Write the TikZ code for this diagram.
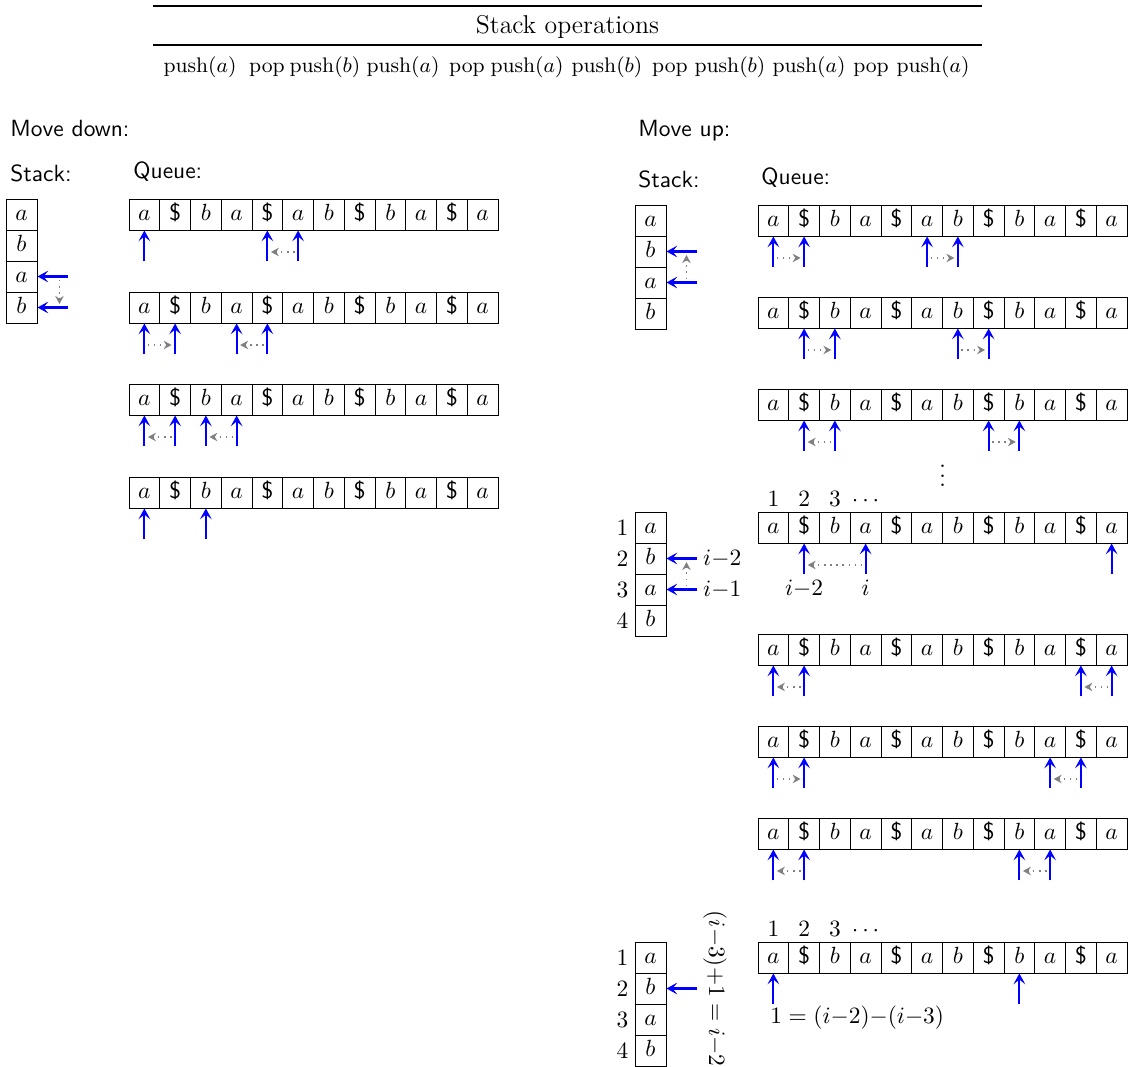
\documentclass[tikz,border=0pt]{standalone}
\usepackage{fontspec}
\usetikzlibrary{calc,arrows.meta}
\tikzset{
  cell/.style={draw, line width=0.4pt, minimum width=13.13pt, minimum height=13.24pt,
    inner sep=0pt, text height=7pt, text depth=2pt},
  scell/.style={cell, minimum width=13.24pt},
  ptr/.style={blue, line width=0.9pt, -{Stealth[length=4.6pt,width=5pt,inset=2pt]}},
  mv/.style={gray, dotted, semithick, -{Stealth[length=3.4pt,width=3.6pt]},
    shorten <=1.5pt, shorten >=1.5pt},
  lab/.style={font=\sffamily, inner sep=0pt, anchor=base west},
  num/.style={text height=6.5pt, text depth=0pt, inner sep=2pt, text=black},
  op/.style={font=\small, inner sep=0pt, anchor=base},
}
\newcommand\qrow[3]{%
  \foreach \c [count=\k] in {$a$,{\textsf{\$}},$b$,$a$,{\textsf{\$}},$a$,$b$,{\textsf{\$}},$b$,$a$,{\textsf{\$}},$a$}
    \node[cell] (#1-\k) at ({#2+(\k-0.5)*30.75},{#3+15.5}) {\c};
}
\newcommand\stkcol[3]{%
  \foreach \c [count=\k] in {$a$,$b$,$a$,$b$}
    \node[scell] (#1-\k) at ({#2+15.5},{#3+(\k-0.5)*31}) {\c};
}
\newcommand\uparr[2]{\draw[ptr] ($(#1-#2.south)+(0,31)$) -- (#1-#2.south);}
\newcommand\mvarr[3]{\draw[mv] ($(#1-#2.south)+(0,21.5)$) -- ($(#1-#3.south)+(0,21.5)$);}
\newcommand\sarr[2]{\draw[ptr] ($(#1-#2.east)+(31,0)$) -- (#1-#2.east);}
\newcommand\topnums[1]{%
  \node[num, above] (#1-n1) at (#1-1.north) {$1$};
  \node[num, above] (#1-n2) at (#1-2.north) {$2$};
  \node[num, above] (#1-n3) at (#1-3.north) {$3$};
  \node[num, above] (#1-n4) at (#1-4.north) {$\cdots$};
}
\newcommand\sidenums[1]{%
  \foreach \k in {1,...,4} \node[num, left, inner sep=2.5pt] (#1-m\k) at (#1-\k.west) {$\k$};
}
\begin{document}
\begin{tikzpicture}[x=0.427pt,y=-0.427pt]
\useasboundingbox (0,0) rectangle (1128,1067);

% header
\draw[line width=0.45pt] (153,6) -- (982,6);
\draw[line width=0.45pt] (153,45) -- (982,45);
\node[anchor=base, inner sep=0pt, font=\fontsize{11}{13}\selectfont] (title) at (567.5,33) {Stack operations};
\node[op] (op1) at (200,72) {push$(a)$};
\node[op] (op2) at (267,72) {pop};
\node[op] (op3) at (325,72) {push$(b)$};
\node[op] (op4) at (403,72) {push$(a)$};
\node[op] (op5) at (467,72) {pop};
\node[op] (op6) at (527,72) {push$(a)$};
\node[op] (op7) at (607,72) {push$(b)$};
\node[op] (op8) at (670,72) {pop};
\node[op] (op9) at (730,72) {push$(b)$};
\node[op] (op10) at (809,72) {push$(a)$};
\node[op] (op11) at (871,72) {pop};
\node[op] (op12) at (933,72) {push$(a)$};

% ---------- Move down ----------
\node[lab] (mdown) at (10,136) {Move down:};
\node[lab] (lstack) at (10,181) {Stack:};
\node[lab] (lqueue) at (133,178) {Queue:};

\stkcol{ls}{6}{199}
\sarr{ls}{3}
\sarr{ls}{4}
\draw[mv] ($(ls-3.east)+(22,0)$) -- ($(ls-4.east)+(22,0)$);

\qrow{q1}{129}{199}
\uparr{q1}{1}\uparr{q1}{5}\uparr{q1}{6}
\mvarr{q1}{6}{5}

\qrow{q2}{129}{292}
\uparr{q2}{1}\uparr{q2}{2}\uparr{q2}{4}\uparr{q2}{5}
\mvarr{q2}{1}{2}\mvarr{q2}{5}{4}

\qrow{q3}{129}{384}
\uparr{q3}{1}\uparr{q3}{2}\uparr{q3}{3}\uparr{q3}{4}
\mvarr{q3}{2}{1}\mvarr{q3}{4}{3}

\qrow{q4}{129}{477}
\uparr{q4}{1}\uparr{q4}{3}

% ---------- Move up ----------
\node[lab] (mup) at (638,136) {Move up:};
\node[lab] (rstack) at (638,187) {Stack:};
\node[lab] (rqueue) at (761,184) {Queue:};

\stkcol{sa}{635}{205}
\sarr{sa}{2}\sarr{sa}{3}
\draw[mv] ($(sa-3.east)+(20,0)$) -- ($(sa-2.east)+(20,0)$);

\qrow{r1}{758}{205}
\uparr{r1}{1}\uparr{r1}{2}\uparr{r1}{6}\uparr{r1}{7}
\mvarr{r1}{1}{2}\mvarr{r1}{6}{7}

\qrow{r2}{758}{297}
\uparr{r2}{2}\uparr{r2}{3}\uparr{r2}{7}\uparr{r2}{8}
\mvarr{r2}{2}{3}\mvarr{r2}{7}{8}

\qrow{r3}{758}{389}
\uparr{r3}{2}\uparr{r3}{3}\uparr{r3}{8}\uparr{r3}{9}
\mvarr{r3}{3}{2}\mvarr{r3}{8}{9}

\node[inner sep=0pt] (vd) at (942.5,469) {$\vdots$};

\qrow{r4}{758}{512}
\topnums{r4}
\draw[ptr] ($(r4-2.south)+(0,31)$) node[num, below] (lbl-i2) {$i{-}2$} -- (r4-2.south);
\draw[ptr] ($(r4-4.south)+(0,31)$) node[num, below] (lbl-i) {$i$} -- (r4-4.south);
\uparr{r4}{12}
\mvarr{r4}{4}{2}

\stkcol{sb}{635}{512}
\sidenums{sb}
\draw[ptr] ($(sb-2.east)+(31,0)$) node[right, inner sep=2pt, text=black] (lbl-s2) {$i{-}2$} -- (sb-2.east);
\draw[ptr] ($(sb-3.east)+(31,0)$) node[right, inner sep=2pt, text=black] (lbl-s3) {$i{-}1$} -- (sb-3.east);
\draw[mv] ($(sb-3.east)+(20,0)$) -- ($(sb-2.east)+(20,0)$);

\qrow{r5}{758}{634}
\uparr{r5}{1}\uparr{r5}{2}\uparr{r5}{11}\uparr{r5}{12}
\mvarr{r5}{2}{1}\mvarr{r5}{12}{11}

\qrow{r6}{758}{726}
\uparr{r6}{1}\uparr{r6}{2}\uparr{r6}{10}\uparr{r6}{11}
\mvarr{r6}{1}{2}\mvarr{r6}{11}{10}

\qrow{r7}{758}{818}
\uparr{r7}{1}\uparr{r7}{2}\uparr{r7}{9}\uparr{r7}{10}
\mvarr{r7}{2}{1}\mvarr{r7}{10}{9}

\qrow{r8}{758}{942}
\topnums{r8}
\uparr{r8}{1}\uparr{r8}{9}
\node[anchor=west, inner sep=0pt] (eqlbl) at (770,1018) {$1 = (i{-}2){-}(i{-}3)$};

\stkcol{sc}{635}{942}
\sidenums{sc}
\sarr{sc}{2}
\node[rotate=-90, inner sep=0pt] (rotlbl) at (715,988.5) {$(i{-}3){+}1 = i{-}2$};
\end{tikzpicture}
\end{document}
